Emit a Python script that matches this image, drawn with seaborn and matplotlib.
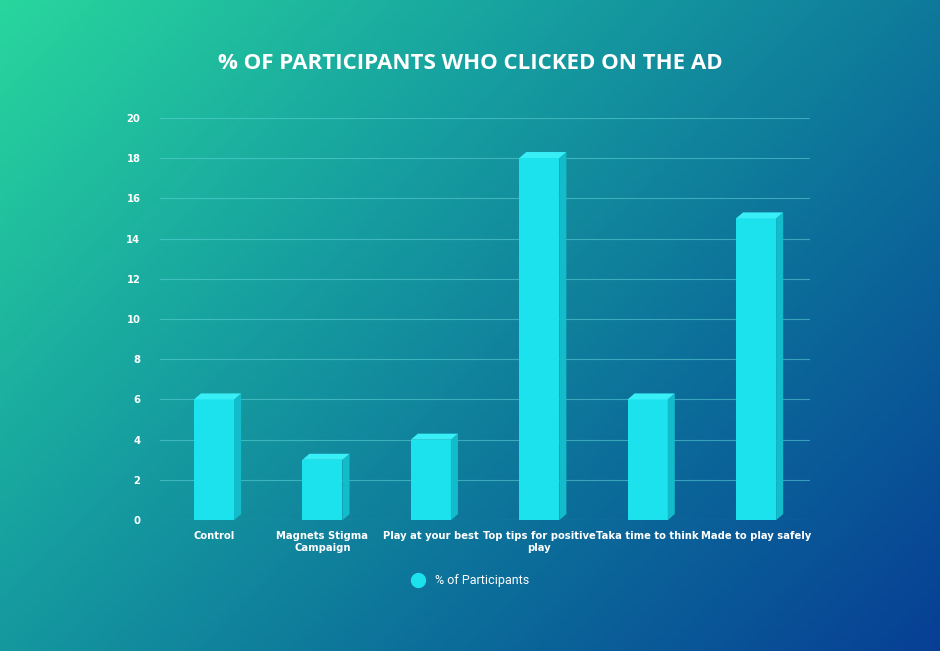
import numpy as np
import pandas as pd
import seaborn as sns
import matplotlib.pyplot as plt
from matplotlib.patches import Polygon
from matplotlib.lines import Line2D
from matplotlib.colors import LinearSegmentedColormap

categories = ["Control", "Magnets Stigma\nCampaign", "Play at your best",
              "Top tips for positive\nplay", "Taka time to think", "Made to play safely"]
values = [6, 3, 4, 18, 6, 15]
yticks = [0, 2, 4, 6, 8, 10, 12, 14, 16, 18, 20]

df = pd.DataFrame({"cat": categories, "val": values})

fig = plt.figure(figsize=(9.4, 6.51), dpi=100)

# gradient background
bg = fig.add_axes([0, 0, 1, 1])
yy, xx = np.mgrid[0:1:200j, 0:1:200j]
grad = (xx * 0.6 + yy * 0.4)
cmap = LinearSegmentedColormap.from_list("bg", ["#28d69d", "#17a2a0", "#0c6f9a", "#073f95"])
bg.imshow(grad, cmap=cmap, aspect="auto", extent=[0, 1, 0, 1], origin="upper")
bg.axis("off")

ax = fig.add_axes([0.170, 0.201, 0.692, 0.618])
ax.set_facecolor("none")
sns.barplot(data=df, x="cat", y="val", color="#1ce2ee", width=0.37, ax=ax,
            saturation=1, zorder=3)

# fake 3d side and top
dx = 0.065
dy = 0.3
for p in ax.patches:
    x0, w, h = p.get_x(), p.get_width(), p.get_height()
    p.set_edgecolor("none")
    side = Polygon([(x0 + w, 0), (x0 + w + dx, dy), (x0 + w + dx, h + dy), (x0 + w, h)],
                   closed=True, fc="#13bccb", ec="none", zorder=3)
    top = Polygon([(x0, h), (x0 + dx, h + dy), (x0 + w + dx, h + dy), (x0 + w, h)],
                  closed=True, fc="#38eef7", ec="none", zorder=3)
    ax.add_patch(side)
    ax.add_patch(top)

ax.set_ylim(0, 20)
ax.set_xlim(-0.5, len(categories) - 0.5)
ax.set_yticks(yticks)
ax.grid(axis="y", color="#5fd3d8", alpha=0.55, lw=0.8, zorder=0)
for s in ax.spines.values():
    s.set_visible(False)
ax.tick_params(length=0, colors="white", labelsize=8)
ax.tick_params(axis="y", pad=14)
ax.tick_params(axis="x", pad=8)
ax.set_xlabel("")
ax.set_ylabel("")
for lab in ax.get_xticklabels() + ax.get_yticklabels():
    lab.set_fontfamily("DejaVu Sans")
    lab.set_fontstretch("condensed")
    lab.set_fontweight("bold")
    lab.set_color("white")

fig.text(0.5, 0.902, "% OF PARTICIPANTS WHO CLICKED ON THE AD", ha="center", va="center",
         color="white", fontsize=16, fontweight="bold", fontfamily="Open Sans")

h = Line2D([], [], marker="o", ls="none", markersize=10, color="#1ce2ee")
leg = fig.legend([h], ["% of Participants"], loc="center", bbox_to_anchor=(0.497, 0.108),
                 frameon=False, fontsize=9, handletextpad=0.4)
for t in leg.get_texts():
    t.set_color("white")
    t.set_fontfamily("Roboto")

fig.savefig("out.png", dpi=100)
